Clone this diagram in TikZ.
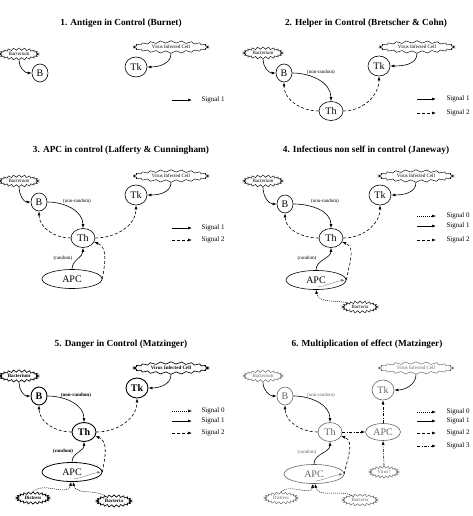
\documentclass[tikz,border=0pt]{standalone}
\usepackage{fontspec}
\setmainfont{Liberation Serif}
\usetikzlibrary{shapes.geometric,shapes.symbols,arrows.meta,calc}
\begin{document}
\begin{tikzpicture}[x=1pt,y=-1pt,
 cell/.style={ellipse,draw,line width=0.6pt,inner sep=0pt,font=\fontsize{10}{10}\selectfont},
 bsz/.style={minimum width=16pt,minimum height=18pt},
 thsz/.style={minimum width=24pt,minimum height=19pt},
 tksz/.style={minimum width=22pt,minimum height=20pt},
 apcsz/.style={minimum width=60pt,minimum height=19pt},
 burst/.style={starburst,draw,line width=0.45pt,starburst points=22,starburst point height=2.3pt,random starburst=0,inner sep=1pt,font=\fontsize{5}{5}\selectfont},
 title/.style={font=\bfseries\fontsize{9.3}{10}\selectfont},
 lab/.style={font=\fontsize{5}{5}\selectfont},
 leg/.style={font=\fontsize{7}{7}\selectfont,anchor=west},
 tip/.style={-{Latex[length=4pt,width=3pt]}},
 sa/.style={tip,line width=0.6pt},
 sb/.style={tip,line width=0.6pt,dash pattern=on 3pt off 2pt},
 s0/.style={tip,line width=0.5pt,dash pattern=on 1pt off 1pt},
 s3/.style={tip,line width=0.6pt,dash pattern=on 3pt off 1.5pt on 0.8pt off 1.5pt},
 innerarr/.style={-{Latex[length=3pt,width=2.5pt]},line width=0.3pt,black!60},
 bd/.style={line width=0.9pt,font=\bfseries\fontsize{10}{10}\selectfont},
 bdb/.style={line width=0.65pt,font=\bfseries\fontsize{5}{5}\selectfont},
 gr/.style={draw=black!60,text=black!60},
]
\fill[white] (0,0) rectangle (472,516);
\useasboundingbox (0,0) rectangle (472,516);

% ---------- Panel 1
\node[title] (t1) at (121,23) {1. Antigen in Control (Burnet)};
\node[burst,minimum width=40pt,minimum height=12pt] (bc1) at (19,54) {Bacterium};
\node[cell,bsz] (B1) at (40,73) {B};
\node[burst,minimum width=76pt,minimum height=11pt] (vc1) at (171,47) {Virus Infected Cell};
\node[cell,tksz] (Tk1) at (136,67) {Tk};
\draw[sa] (bc1.south) to[out=-90,in=180] (B1.west);
\draw[sa] (vc1.south) to[out=-90,in=0] (Tk1.east);
\coordinate (l1a) at (172,100); \coordinate (l1b) at (192,100);
\draw[sa] (l1a) -- (l1b);
\node[leg] (lt1) at (198,100) {Signal 1};

% ---------- Panel 2
\node[title] (t2) at (366,23) {2. Helper in Control (Bretscher \& Cohn)};
\node[burst,minimum width=40pt,minimum height=12pt] (bc2) at (263,53) {Bacterium};
\node[cell,bsz] (B2) at (284,73) {B};
\node[burst,minimum width=76pt,minimum height=11pt] (vc2) at (417,47) {Virus Infected Cell};
\node[cell,tksz] (Tk2) at (379,66) {Tk};
\node[cell,thsz] (Th2) at (331,111) {Th};
\node[lab] (nr2) at (321,72) {(non-random)};
\draw[sa] (bc2.south) to[out=-90,in=180] (B2.west);
\draw[sa] (vc2.south) to[out=-90,in=0] (Tk2.east);
\draw[sa] (B2.east) to[out=0,in=90] (Th2.north);
\draw[sb] (Th2.west) to[out=180,in=-90] (B2.south);
\draw[sb] (Th2.east) to[out=0,in=-90] (Tk2.south);
\coordinate (l2a) at (417,99); \coordinate (l2b) at (436,99);
\coordinate (l2c) at (417,113); \coordinate (l2d) at (436,113);
\draw[sa] (l2a) -- (l2b);
\draw[sb] (l2c) -- (l2d);
\node[leg] (lt2a) at (443,99) {Signal 1};
\node[leg] (lt2b) at (443,113) {Signal 2};

% ---------- Panel 3
\node[title] (t3) at (121,150) {3. APC in control (Lafferty \& Cunningham)};
\node[burst,minimum width=40pt,minimum height=12pt] (bc3) at (19,181) {Bacterium};
\node[cell,bsz] (B3) at (39,202) {B};
\node[burst,minimum width=76pt,minimum height=11pt] (vc3) at (171,176) {Virus Infected Cell};
\node[cell,tksz] (Tk3) at (136,195) {Tk};
\node[cell,thsz] (Th3) at (83,238) {Th};
\node[cell,apcsz] (APC3) at (72,279) {APC};
\node[lab] (nr3) at (77,201) {(non-random)};
\node[lab] (rn3) at (63,258) {(random)};
\draw[sa] (bc3.south) to[out=-90,in=180] (B3.west);
\draw[sa] (vc3.south) to[out=-90,in=0] (Tk3.east);
\draw[sa] (B3.east) to[out=0,in=90] (Th3.north);
\draw[sb] (Th3.west) to[out=180,in=-90] (B3.south);
\draw[sb] (Th3.east) to[out=0,in=-90] (Tk3.south);
\draw[sa] (APC3.north) to[out=90,in=-90] (Th3.south);
\draw[sb] (APC3.east) to[out=80,in=-20] (Th3.-20);
\coordinate (l3a) at (172,228); \coordinate (l3b) at (192,228);
\coordinate (l3c) at (172,240); \coordinate (l3d) at (192,240);
\draw[sa] (l3a) -- (l3b);
\draw[sb] (l3c) -- (l3d);
\node[leg] (lt3a) at (198,228) {Signal 1};
\node[leg] (lt3b) at (198,240) {Signal 2};

% ---------- Panel 4
\node[title] (t4) at (366,150) {4. Infectious non self in control (Janeway)};
\node[burst,minimum width=40pt,minimum height=12pt] (bc4) at (263,181) {Bacterium};
\node[cell,bsz] (B4) at (285,204) {B};
\node[burst,minimum width=76pt,minimum height=11pt] (vc4) at (416,176) {Virus Infected Cell};
\node[cell,tksz] (Tk4) at (380,195) {Tk};
\node[cell,thsz] (Th4) at (331,238) {Th};
\node[cell,apcsz] (APC4) at (316,280) {APC};
\node[burst,minimum width=36pt,minimum height=10pt] (ba4) at (360,307) {Bacteria};
\node[lab] (nr4) at (325,201) {(non-random)};
\node[lab] (rn4) at (307,258) {(random)};
\draw[sa] (bc4.south) to[out=-90,in=180] (B4.west);
\draw[sa] (vc4.south) to[out=-90,in=0] (Tk4.east);
\draw[sa] (B4.east) to[out=0,in=90] (Th4.north);
\draw[sb] (Th4.west) to[out=180,in=-90] (B4.south);
\draw[sb] (Th4.east) to[out=0,in=-90] (Tk4.south);
\draw[sa] (APC4.north) to[out=90,in=-90] (Th4.south);
\coordinate (i4a) at ($(APC4.center)+(2,7)$);
\coordinate (i4b) at ($(APC4.east)+(-2,0)$);
\draw[innerarr] (i4a) to[out=10,in=190] (i4b);
\draw[sb] (APC4.east) to[out=80,in=-20] (Th4.-20);
\draw[s0] (ba4.160) to[out=165,in=-80] (APC4.south);
\coordinate (l4a) at (417,216); \coordinate (l4b) at (436,216);
\coordinate (l4c) at (417,226); \coordinate (l4d) at (436,226);
\coordinate (l4e) at (417,240); \coordinate (l4f) at (436,240);
\draw[s0] (l4a) -- (l4b);
\draw[sa] (l4c) -- (l4d);
\draw[sb] (l4e) -- (l4f);
\node[leg] (lt4a) at (443,216) {Signal 0};
\node[leg] (lt4b) at (443,226) {Signal 1};
\node[leg] (lt4c) at (443,240) {Signal 2};

% ---------- Panel 5
\node[title] (t5) at (121,344) {5. Danger in Control (Matzinger)};
\node[burst,bdb,minimum width=40pt,minimum height=12pt] (bc5) at (19,376) {Bacterium};
\node[cell,bsz,bd] (B5) at (39,396) {B};
\node[burst,bdb,minimum width=76pt,minimum height=11pt] (vc5) at (171,368) {Virus Infected Cell};
\node[cell,tksz,bd] (Tk5) at (137,388) {Tk};
\node[cell,thsz,bd] (Th5) at (84,432) {Th};
\node[cell,apcsz,line width=0.8pt] (APC5) at (72,472) {APC};
\node[burst,bdb,minimum width=34pt,minimum height=11pt] (ds5) at (33,498) {Distress};
\node[burst,bdb,minimum width=36pt,minimum height=10pt] (ba5) at (114,501) {Bacteria};
\node[lab,font=\bfseries\fontsize{5}{5}\selectfont] (nr5) at (76,395) {(non-random)};
\node[lab,font=\bfseries\fontsize{5}{5}\selectfont] (rn5) at (63,451) {(random)};
\draw[sa] (bc5.south) to[out=-90,in=180] (B5.west);
\draw[sa] (vc5.south) to[out=-90,in=0] (Tk5.east);
\draw[sa] (B5.east) to[out=0,in=90] (Th5.north);
\draw[sb] (Th5.west) to[out=180,in=-90] (B5.south);
\draw[sb] (Th5.east) to[out=0,in=-90] (Tk5.south);
\draw[sa] (APC5.north) to[out=90,in=-90] (Th5.south);
\coordinate (i5a) at ($(APC5.center)+(2,7)$);
\coordinate (i5b) at ($(APC5.east)+(-2,0)$);
\draw[innerarr] (i5a) to[out=10,in=190] (i5b);
\draw[sb] (APC5.east) to[out=80,in=-20] (Th5.-20);
\draw[s0] (ds5.north) to[out=40,in=-100] (APC5.-95);
\draw[s0] (ba5.150) to[out=150,in=-75] (APC5.-85);
\coordinate (l5a) at (172,411); \coordinate (l5b) at (192,411);
\coordinate (l5c) at (172,421); \coordinate (l5d) at (192,421);
\coordinate (l5e) at (172,433); \coordinate (l5f) at (192,433);
\draw[s0] (l5a) -- (l5b);
\draw[sa] (l5c) -- (l5d);
\draw[sb] (l5e) -- (l5f);
\node[leg] (lt5a) at (198,411) {Signal 0};
\node[leg] (lt5b) at (198,421) {Signal 1};
\node[leg] (lt5c) at (198,433) {Signal 2};

% ---------- Panel 6
\node[title] (t6) at (367,344) {6. Multiplication of effect (Matzinger)};
\node[burst,gr,minimum width=40pt,minimum height=12pt] (bc6) at (263,376) {Bacterium};
\node[cell,bsz,gr] (B6) at (285,396) {B};
\node[burst,gr,minimum width=76pt,minimum height=11pt] (vc6) at (416,368) {Virus Infected Cell};
\node[cell,tksz,gr] (Tk6) at (383,390) {Tk};
\node[cell,thsz,gr] (Th6) at (330,432) {Th};
\node[cell,gr,minimum width=35pt,minimum height=17pt] (AR6) at (383,432) {APC};
\node[cell,apcsz,gr] (APC6) at (314,474) {APC};
\node[burst,gr,minimum width=30pt,minimum height=9pt] (vq6) at (384,472) {Virus?};
\node[burst,gr,minimum width=34pt,minimum height=11pt] (ds6) at (281,498) {Distress};
\node[burst,gr,minimum width=36pt,minimum height=10pt] (ba6) at (360,500) {Bacteria};
\node[lab,text=black!60] (nr6) at (321,395) {(non-random)};
\node[lab,text=black!60] (rn6) at (307,452) {(random)};
\draw[sa] (bc6.south) to[out=-90,in=180] (B6.west);
\draw[sa] (vc6.south) to[out=-90,in=0] (Tk6.east);
\draw[sa] (B6.east) to[out=0,in=90] (Th6.north);
\draw[sb] (Th6.west) to[out=180,in=-90] (B6.south);
\draw[sa] (APC6.north) to[out=90,in=-90] (Th6.south);
\coordinate (i6a) at ($(APC6.center)+(2,7)$);
\coordinate (i6b) at ($(APC6.east)+(-2,0)$);
\draw[innerarr] (i6a) to[out=10,in=190] (i6b);
\draw[sb] (APC6.east) to[out=80,in=-20] (Th6.-20);
\draw[s0] (ds6.north) to[out=40,in=-100] (APC6.-95);
\draw[s0] (ba6.150) to[out=150,in=-75] (APC6.-85);
\draw[s3] (Th6.east) -- (AR6.west);
\draw[s3] (AR6.north) -- (Tk6.south);
\draw[s3] (vq6.north) -- (AR6.south);
\coordinate (l6a) at (417,412); \coordinate (l6b) at (436,412);
\coordinate (l6c) at (417,421); \coordinate (l6d) at (436,421);
\coordinate (l6e) at (417,433); \coordinate (l6f) at (436,433);
\coordinate (l6g) at (417,446); \coordinate (l6h) at (436,446);
\draw[s0] (l6a) -- (l6b);
\draw[sa] (l6c) -- (l6d);
\draw[sb] (l6e) -- (l6f);
\draw[s3] (l6g) -- (l6h);
\node[leg] (lt6a) at (443,412) {Signal 0};
\node[leg] (lt6b) at (443,421) {Signal 1};
\node[leg] (lt6c) at (443,433) {Signal 2};
\node[leg] (lt6d) at (443,446) {Signal 3};
\end{tikzpicture}
\end{document}
